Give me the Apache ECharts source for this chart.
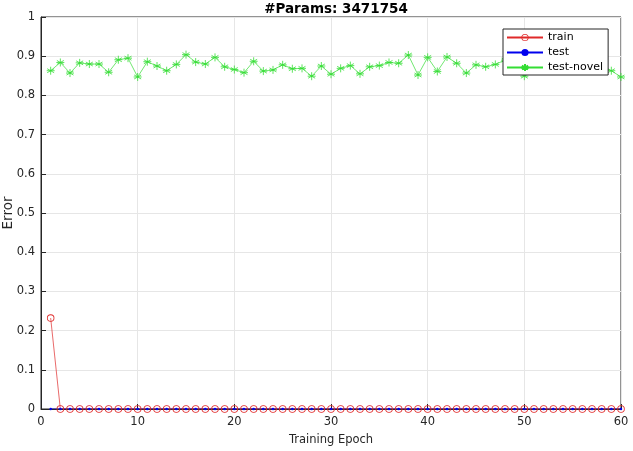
<!DOCTYPE html>
<html><head><meta charset="utf-8">
<script src="https://cdn.jsdelivr.net/npm/echarts@6/dist/echarts.min.js"></script>
<style>html,body{margin:0;padding:0;background:#fff}#c{width:633px;height:451px}</style>
</head><body><div id="c"></div>
<script>
const epochs = Array.from({length: 60}, (_, i) => i + 1);
const trainErr = [0.232,0,0,0,0,0,0,0,0,0,0,0,0,0,0,0,0,0,0,0,0,0,0,0,0,0,0,0,0,0,0,0,0,0,0,0,0,0,0,0,0,0,0,0,0,0,0,0,0,0,0,0,0,0,0,0,0,0,0,0];
const testErr = [0,0,0,0,0,0,0,0,0,0,0,0,0,0,0,0,0,0,0,0,0,0,0,0,0,0,0,0,0,0,0,0,0,0,0,0,0,0,0,0,0,0,0,0,0,0,0,0,0,0,0,0,0,0,0,0,0,0,0,0];
const novelErr = [0.863,0.884,0.857,0.883,0.880,0.880,0.859,0.891,0.895,0.847,
  0.886,0.875,0.863,0.879,0.904,0.885,0.880,0.897,0.873,0.866,
  0.858,0.887,0.862,0.865,0.878,0.868,0.869,0.849,0.875,0.854,
  0.869,0.876,0.855,0.873,0.876,0.884,0.882,0.903,0.852,0.897,
  0.861,0.898,0.882,0.857,0.878,0.873,0.879,0.890,0.880,0.849,
  0.868,0.882,0.875,0.888,0.870,0.879,0.886,0.872,0.863,0.847];
const titleText = '#Params: 3471754';
const xName = 'Training Epoch';
const yName = 'Error';

const pairs = (ys) => epochs.map((x, i) => [x, ys[i]]);
const asterisk = 'path://M0,-5L0,5M-4.33,-2.5L4.33,2.5M-4.33,2.5L4.33,-2.5M-5,0L5,0';
const ring = 'path://M0,-5A5,5 0 1,1 0,5A5,5 0 1,1 0,-5ZM0,-3.9A3.9,3.9 0 1,0 0,3.9A3.9,3.9 0 1,0 0,-3.9Z';
const font = 'DejaVu Sans';
const axisCol = '#262626';
const red = '#e02a2a', blue = '#0000ee', green = '#33dd33';

const chart = echarts.init(document.getElementById('c'), null, {renderer: 'canvas'});
chart.setOption({
  animation: false,
  backgroundColor: '#fff',
  title: {text: titleText, left: 331, textAlign: 'center', top: -3,
    textStyle: {fontFamily: font, fontSize: 13.5, fontWeight: 'bold', color: '#000'}},
  grid: {left: 41, right: 12, top: 17, bottom: 42, outerBoundsMode: 'none', containLabel: false,
    show: true, borderColor: axisCol, borderWidth: 1, backgroundColor: 'transparent'},
  legend: {
    orient: 'vertical', left: 503, top: 29,
    backgroundColor: '#fff', borderColor: axisCol, borderWidth: 1,
    padding: [3, 5, 2, 3], itemGap: 4, itemWidth: 36, itemHeight: 9,
    textStyle: {fontFamily: font, fontSize: 11, color: '#000'},
    data: ['train', 'test', 'test-novel']
  },
  xAxis: {
    type: 'value', min: 0, max: 60, interval: 10,
    name: xName, nameLocation: 'middle', nameGap: 25, nameMoveOverlap: false,
    nameTextStyle: {fontFamily: font, fontSize: 11.5, color: axisCol},
    axisLine: {lineStyle: {color: axisCol}},
    axisTick: {inside: true, length: 5, lineStyle: {color: axisCol}},
    axisLabel: {fontFamily: font, fontSize: 11.5, color: axisCol, margin: 7},
    splitLine: {show: true, lineStyle: {color: '#e6e6e6'}}
  },
  yAxis: {
    type: 'value', min: 0, max: 1, interval: 0.1,
    name: yName, nameLocation: 'middle', nameGap: 26, nameMoveOverlap: false,
    nameTextStyle: {fontFamily: font, fontSize: 13.5, color: axisCol},
    axisLine: {show: true, lineStyle: {color: axisCol}},
    axisTick: {show: true, inside: true, length: 5, lineStyle: {color: axisCol}},
    axisLabel: {fontFamily: font, fontSize: 11.5, color: axisCol, margin: 6},
    splitLine: {show: true, lineStyle: {color: '#e6e6e6'}}
  },
  series: [
    {name: 'train', type: 'line', data: pairs(trainErr), color: red,
      symbol: ring, symbolSize: 7.5,
      lineStyle: {color: red, width: 0.7},
      itemStyle: {color: red, borderWidth: 0}},
    {name: 'test', type: 'line', data: pairs(testErr), color: blue,
      symbol: 'circle', symbolSize: 2.5,
      lineStyle: {color: blue, width: 0.7},
      itemStyle: {color: blue}},
    {name: 'test-novel', type: 'line', data: pairs(novelErr), color: green,
      symbol: asterisk, symbolSize: 8,
      lineStyle: {color: green, width: 0.7},
      itemStyle: {color: green, borderColor: green, borderWidth: 0.8}}
  ]
});
</script></body></html>
